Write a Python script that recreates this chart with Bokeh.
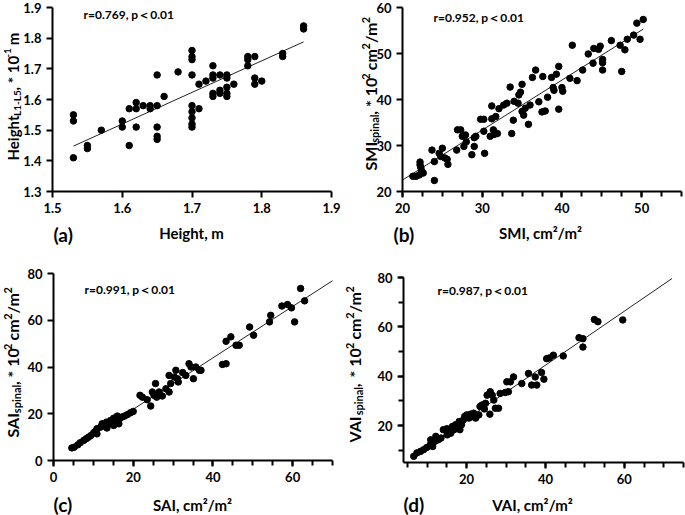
import math
from bokeh.plotting import figure
from bokeh.models import Range1d, FixedTicker, SingleIntervalTicker, Label
from bokeh.layouts import gridplot
from bokeh.embed import file_html
from bokeh.resources import INLINE

FONT = "Lato"

# ---------------- data ----------------
# (a) Height vs Height L1-L5
a_x = [1.53, 1.53, 1.53, 1.55, 1.55, 1.57, 1.60, 1.60, 1.61, 1.61,
       1.62, 1.62, 1.62, 1.63, 1.64, 1.64, 1.65, 1.65, 1.65, 1.65, 1.65,
       1.66, 1.68, 1.70, 1.70, 1.70, 1.70, 1.70, 1.70, 1.70, 1.70, 1.70,
       1.71, 1.71, 1.72, 1.73, 1.73, 1.73, 1.73, 1.73, 1.74, 1.74, 1.74,
       1.75, 1.75, 1.75, 1.75, 1.75, 1.76, 1.78, 1.78, 1.78, 1.79, 1.79, 1.79,
       1.80, 1.83, 1.83, 1.86, 1.86]
a_y = [1.55, 1.53, 1.41, 1.45, 1.44, 1.50, 1.53, 1.51, 1.57, 1.45,
       1.59, 1.57, 1.51, 1.58, 1.58, 1.57, 1.68, 1.58, 1.51, 1.48, 1.47,
       1.61, 1.69, 1.76, 1.74, 1.73, 1.68, 1.58, 1.56, 1.54, 1.52, 1.51,
       1.65, 1.57, 1.66, 1.71, 1.68, 1.67, 1.62, 1.61, 1.68, 1.63, 1.62,
       1.68, 1.67, 1.64, 1.62, 1.61, 1.65, 1.74, 1.73, 1.71, 1.74, 1.67, 1.65,
       1.66, 1.75, 1.74, 1.84, 1.83]
a_fit_x = [1.53, 1.86]
a_fit_y = [1.448, 1.788]

# (b) SMI vs SMI spinal
b_x = [21.3, 21.7, 22.1, 22.2, 22.2, 22.3, 22.4, 22.6, 23.7, 24.0, 24.0, 24.6, 24.8,
       25.0, 25.3, 25.6, 25.7, 26.8, 26.9, 27.3, 27.5, 27.7, 27.9, 28.0, 28.7, 29.0,
       29.0, 29.2, 29.8, 30.2, 30.2, 30.3, 31.0, 31.2, 31.2, 31.4, 31.5, 31.7, 31.9,
       32.1, 32.7, 33.1, 33.5, 33.7, 33.9, 34.0, 34.5, 34.6, 34.8, 35.0, 35.0, 35.2,
       35.4, 35.8, 36.0, 36.3, 36.7, 37.1, 37.5, 37.6, 37.9, 38.2, 38.7, 38.9, 39.0,
       39.3, 39.6, 39.6, 40.0, 40.1, 41.0, 41.3, 41.9, 42.6, 43.3, 43.9, 44.0, 44.6,
       44.8, 45.1, 45.1, 45.1, 46.2, 47.3, 47.5, 47.9, 48.2, 49.0, 49.4, 49.8, 50.2]
b_y = [23.3, 23.3, 23.6, 26.4, 25.8, 25.2, 24.5, 24.0, 29.0, 26.5, 22.4, 28.3, 27.6,
       29.4, 27.3, 27.0, 25.9, 29.0, 33.4, 33.4, 32.0, 29.8, 32.3, 30.8, 28.0, 31.7,
       29.8, 32.0, 35.7, 35.7, 33.1, 28.3, 32.0, 38.6, 35.8, 33.4, 32.4, 36.3, 32.6,
       38.0, 38.8, 39.2, 42.7, 32.6, 35.5, 39.6, 39.2, 41.0, 41.6, 43.3, 37.4, 36.6,
       38.1, 34.6, 38.8, 44.8, 46.4, 39.5, 37.3, 45.0, 37.5, 40.5, 44.8, 42.6, 42.0,
       45.5, 47.2, 37.9, 42.6, 41.8, 44.6, 51.8, 44.1, 46.4, 49.9, 47.9, 51.1, 50.9,
       51.6, 48.7, 48.0, 46.4, 52.8, 51.8, 46.1, 50.8, 53.1, 54.0, 56.6, 53.1, 57.4]
b_fit_x = [20.0, 50.2]
b_fit_y = [22.5, 55.3]

# (c) SAI vs SAI spinal
c_x = [4.6, 5.2, 6.1, 6.7, 7.6, 8.2, 8.8, 9.4, 10.1, 10.5, 10.9, 10.9, 11.8, 12.2,
       12.8, 13.3, 13.4, 14.3, 14.7, 15.1, 15.1, 15.5, 16.0, 16.4, 16.6, 17.2, 17.8,
       18.5, 19.3, 20.0, 21.7, 22.3, 23.5, 24.4, 24.8, 25.2, 25.6, 25.9, 26.5, 27.3,
       28.2, 29.0, 29.0, 29.4, 30.3, 30.7, 31.1, 31.3, 32.4, 33.2, 34.0, 34.5, 35.1,
       35.7, 36.6, 37.0, 42.4, 43.3, 43.3, 44.5, 45.8, 46.6, 49.2, 50.2, 54.2, 54.5,
       57.3, 58.7, 59.7, 60.5, 62.0, 63.0]
c_y = [5.4, 5.7, 6.7, 7.6, 8.6, 9.3, 10.0, 10.7, 11.9, 12.4, 11.4, 13.6, 14.3, 15.7,
       14.7, 16.4, 13.9, 17.1, 15.7, 18.1, 15.0, 17.1, 19.0, 15.7, 17.9, 18.6, 19.0,
       19.6, 20.4, 21.0, 27.9, 27.1, 26.0, 23.3, 29.3, 27.9, 32.9, 27.1, 29.3, 27.6,
       30.7, 29.3, 36.4, 32.9, 35.7, 38.6, 35.0, 33.6, 37.6, 36.4, 41.4, 40.0, 35.0,
       40.0, 38.6, 38.6, 41.1, 41.4, 51.0, 52.9, 49.3, 49.3, 57.1, 53.6, 59.3, 62.1,
       66.1, 66.7, 65.3, 59.3, 73.6, 68.3]
c_fit_x = [4.6, 70.0]
c_fit_y = [5.0, 76.9]

# (d) VAI vs VAI spinal
d_x = [6.6, 7.4, 8.3, 9.1, 9.9, 10.8, 11.4, 10.9, 11.95, 12.2, 12.8, 13.5, 14.1,
       15.0, 15.1, 16.0, 16.4, 16.8, 17.2, 17.65, 18.1, 18.3, 18.7, 19.2, 19.5, 20.0,
       20.6, 21.0, 21.4, 21.8, 22.3, 23.1, 23.4, 23.9, 24.5, 24.8, 25.2, 25.9, 26.0,
       25.9, 26.5, 26.9, 27.3, 28.1, 28.5, 29.8, 30.6, 30.2, 31.1, 31.9, 34.0, 35.7,
       36.5, 37.4, 37.8, 39.0, 39.6, 40.3, 41.0, 42.0, 44.5, 48.5, 49.5, 49.5, 52.4,
       53.3, 59.6]
d_y = [7.5, 8.9, 9.5, 10.2, 11.1, 12.2, 11.5, 14.2, 13.6, 15.6, 14.2, 14.9, 18.3,
       18.7, 16.2, 16.9, 19.6, 18.3, 20.3, 18.9, 21.6, 18.3, 20.3, 22.3, 23.6, 24.3,
       23.0, 24.6, 23.6, 25.0, 23.0, 24.3, 27.7, 28.3, 26.7, 29.0, 32.3, 33.0, 33.7,
       24.6, 32.3, 30.3, 27.0, 27.0, 33.0, 33.4, 33.7, 37.7, 37.7, 39.7, 37.0, 41.1,
       36.4, 39.7, 36.4, 41.5, 38.8, 47.1, 47.4, 48.5, 48.2, 55.6, 55.2, 51.8, 62.95,
       62.1, 62.8]
d_fit_x = [5.9, 72.1]
d_fit_y = [7.1, 79.6]

# axis bounds and ticks
a_xlim, a_ylim = (1.5, 1.9), (1.3, 1.9)
b_xlim, b_ylim = (20, 55), (20, 60)
c_xlim, c_ylim = (0, 70), (0, 80)
d_xlim, d_ylim = (4, 75), (5, 80)
a_xticks = [1.5, 1.6, 1.7, 1.8, 1.9]
a_yticks = [1.3, 1.4, 1.5, 1.6, 1.7, 1.8, 1.9]
b_yticks = [20, 30, 40, 50, 60]
c_yticks = [0, 20, 40, 60, 80]

r_texts = ["r=0.769, p＜0.01", "r=0.952, p＜0.01", "r=0.991, p＜0.01", "r=0.987, p＜0.01"]
panel_tags = ["(a)", "(b)", "(c)", "(d)"]
x_titles = ["Height, m", "SMI, cm²/m²", "SAI, cm²/m²", "VAI, cm²/m²"]

# approximate advance widths (em) of Lato Bold, used to chain label pieces
W = {' ': 0.193, ',': 0.22, '.': 0.22, '*': 0.42, '-': 0.36, '/': 0.40,
     'A': 0.70, 'H': 0.755, 'I': 0.30, 'L': 0.52, 'M': 0.91, 'S': 0.52, 'V': 0.70,
     'a': 0.51, 'c': 0.46, 'e': 0.53, 'g': 0.50, 'h': 0.56, 'i': 0.25, 'l': 0.25,
     'm': 0.84, 'n': 0.56, 'p': 0.56, 's': 0.43, 't': 0.37}
for ch in "0123456789":
    W[ch] = 0.58


def tw(s, size):
    return sum(W.get(c, 0.55) for c in s) * size


def ext(v0, v1, p0, p1, total):
    s = (v1 - v0) / (p1 - p0)
    return (v0 - p0 * s, v1 + (total - p1) * s)


def style_axis(ax, ticker, minor):
    ax.ticker = ticker
    ax.axis_line_width = 2
    ax.axis_line_color = "black"
    ax.major_tick_line_width = 2
    ax.major_tick_line_color = "black"
    ax.major_tick_in = 0
    ax.major_tick_out = 6
    ax.minor_tick_line_width = 2
    ax.minor_tick_line_color = "black"
    ax.minor_tick_in = 0
    ax.minor_tick_out = 5 if minor else 0
    ax.major_label_text_font = FONT
    ax.major_label_text_font_style = "bold"
    ax.major_label_text_font_size = "13px"
    ax.major_label_text_color = "black"
    ax.major_label_standoff = 5


def make_panel(Wc, Hc, box, xlim, ylim, xticker, xminor, yticker, yminor):
    L, T, R, B = box
    xr = ext(xlim[0], xlim[1], L, R, Wc)
    yr = ext(ylim[0], ylim[1], Hc - B, Hc - T, Hc)
    p = figure(width=Wc, height=Hc, output_backend="svg", toolbar_location=None,
               x_range=Range1d(*xr), y_range=Range1d(*yr), min_border=0)
    p.outline_line_color = None
    p.grid.visible = False
    p.xaxis.fixed_location = ylim[0]
    p.xaxis.bounds = xlim
    p.yaxis.fixed_location = xlim[0]
    p.yaxis.bounds = ylim
    style_axis(p.xaxis[0], xticker, xminor)
    style_axis(p.yaxis[0], yticker, yminor)
    return p


def lab(p, Hc, cx, cy, text, size, align="left", baseline="middle", angle=0.0):
    p.add_layout(Label(x=cx, y=Hc - cy, x_units="screen", y_units="screen", text=text,
                       angle=angle, text_font=FONT, text_font_style="bold",
                       text_font_size=f"{size}px", text_align=align,
                       text_baseline=baseline, text_color="black"))


def add_common(p, Hc, xs, ys, fx, fy, rtext, rpos, tag, tagpos, xtitle, tpos):
    p.line(fx, fy, line_width=1, color="#222222")
    p.scatter(xs, ys, size=6.5, color="black")
    lab(p, Hc, rpos[0], rpos[1], rtext, 12)
    lab(p, Hc, tagpos[0], tagpos[1], tag, 19)
    lab(p, Hc, tpos[0], tpos[1], xtitle, 15, align="center")


def add_ylabel(p, Hc, segs, cx, cy, main=15, small=10):
    pos = 0.0
    for text, kind in segs:
        if text == "_":
            pos += 0.193 * main
            continue
        size = main if kind == "n" else small
        dx = 0 if kind == "n" else (4 if kind == "sub" else -5)
        lab(p, Hc, cx + dx, cy - pos, text, size, baseline="alphabetic", angle=math.pi / 2)
        pos += tw(text, size)


# canvas sizes (page has no margin: canvas coords == page coords offset by column/row)
W1, W2, H1, H2 = 342, 343, 258, 257
box_a = (52, 7, 331, 191)
box_b = (60, 7, 339, 191)
box_c = (53, 15, 332, 202)
box_d = (61, 19, 341, 204)

pa = make_panel(W1, H1, box_a, a_xlim, a_ylim, FixedTicker(ticks=a_xticks), False,
                FixedTicker(ticks=a_yticks), False)
pb = make_panel(W2, H1, box_b, b_xlim, b_ylim,
                SingleIntervalTicker(interval=10, num_minor_ticks=4), True,
                FixedTicker(ticks=b_yticks), False)
pc = make_panel(W1, H2, box_c, c_xlim, c_ylim,
                SingleIntervalTicker(interval=20, num_minor_ticks=4), True,
                FixedTicker(ticks=c_yticks), False)
pd = make_panel(W2, H2, box_d, d_xlim, d_ylim,
                SingleIntervalTicker(interval=20, num_minor_ticks=4), True,
                SingleIntervalTicker(interval=20, num_minor_ticks=2), True)

add_common(pa, H1, a_x, a_y, a_fit_x, a_fit_y, r_texts[0], (83, 14), panel_tags[0], (53, 234),
           x_titles[0], (191, 232))
add_common(pb, H1, b_x, b_y, b_fit_x, b_fit_y, r_texts[1], (91, 17), panel_tags[1], (51, 234),
           x_titles[1], (198, 232))
add_common(pc, H2, c_x, c_y, c_fit_x, c_fit_y, r_texts[2], (84, 31), panel_tags[2], (53, 246),
           x_titles[2], (192, 246))
add_common(pd, H2, d_x, d_y, d_fit_x, d_fit_y, r_texts[3], (95, 32), panel_tags[3], (61, 246),
           x_titles[3], (190, 246))

add_ylabel(pa, H1, [("Height", "n"), ("L1-L5", "sub"), (", * 10", "n"), ("-1", "sup"),
                    ("_", "n"), ("m", "n")], 12, 160)
add_ylabel(pb, H1, [("SMI", "n"), ("spinal", "sub"), (", * 10", "n"), ("2", "sup"), ("_", "n"),
                    ("cm", "n"), ("2", "sup"), ("/m", "n"), ("2", "sup")], 28, 170, 16, 11)
add_ylabel(pc, H2, [("SAI", "n"), ("spinal", "sub"), (", * 10", "n"), ("2", "sup"), ("_", "n"),
                    ("cm", "n"), ("2", "sup"), ("/m", "n"), ("2", "sup")], 12, 179, 16, 11)
add_ylabel(pd, H2, [("VAI", "n"), ("spinal", "sub"), (",", "n"), ("_", "n"), ("_", "n"),
                    ("* 10", "n"), ("2", "sup"), ("_", "n"),
                    ("cm", "n"), ("2", "sup"), ("/m", "n"), ("2", "sup")], 12, 184, 16, 11)

grid = gridplot([[pa, pb], [pc, pd]], toolbar_location=None)

open("out.html", "w").write(file_html(grid, INLINE))
